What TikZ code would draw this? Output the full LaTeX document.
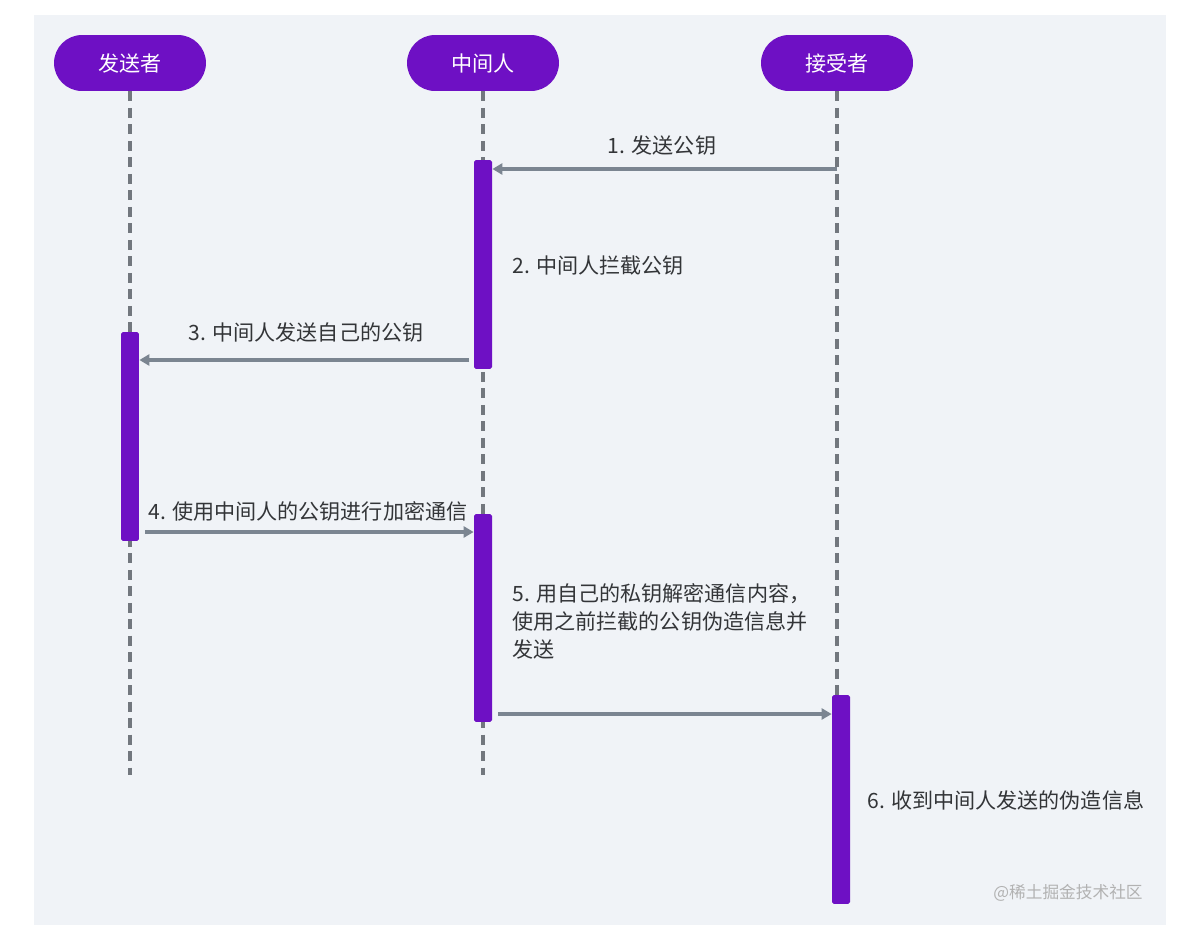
\documentclass[tikz,border=0pt]{standalone}
\usepackage{fontspec}
\setmainfont{Noto Sans CJK SC}
\usetikzlibrary{arrows.meta}

\definecolor{panelbg}{HTML}{F0F3F7}
\definecolor{actorpurple}{HTML}{6E10C4}
\definecolor{msggray}{HTML}{7B8591}
\definecolor{lifegray}{HTML}{72777E}
\definecolor{textgray}{HTML}{333538}

\begin{document}
\begin{tikzpicture}[
    x=0.02cm, y=-0.02cm,
    actor/.style={
        rectangle,
        rounded corners=0.56cm,
        fill=actorpurple,
        text=white,
        minimum width=3.04cm,
        minimum height=1.12cm,
        inner sep=0pt,
        font=\fontsize{12}{14}\selectfont,
    },
    bar/.style={
        rectangle,
        rounded corners=1pt,
        fill=actorpurple,
        minimum width=0.36cm,
        inner sep=0pt,
    },
    life/.style={
        draw=lifegray,
        line width=2pt,
        dash pattern=on 0.2cm off 0.13cm,
    },
    msg/.style={
        draw=msggray,
        line width=2pt,
        -{Triangle[length=2mm,width=2.2mm]},
    },
    label/.style={
        text=textgray,
        inner sep=0pt,
        font=\fontsize{12}{16}\selectfont,
    }
]

    \useasboundingbox (0,0) rectangle (1194,940);
    \fill[panelbg] (34,15) rectangle (1166,925);

    \node[actor] (sender) at (130, 63) {发送者};
    \node[actor] (mitm) at (483, 63) {中间人};
    \node[actor] (receiver) at (837, 63) {接受者};

    \coordinate (sender end) at (130, 775);
    \coordinate (mitm end) at (483, 775);
    \coordinate (receiver end) at (837, 775);

    \draw[life] (sender) -- (sender end);
    \draw[life] (mitm) -- (mitm end);
    \draw[life] (receiver) -- (receiver end);

    \node[bar, minimum height=4.18cm] (m1) at (483, 264.5) {};
    \node[bar, minimum height=4.18cm] (s1) at (130, 436.5) {};
    \node[bar, minimum height=4.16cm] (m2) at (483, 618) {};
    \node[bar, minimum height=4.18cm] (r1) at (841, 799.5) {};

    \coordinate (k1) at (837, 169);
    \coordinate (k3) at (469, 360);
    \coordinate (k4) at (145, 532);
    \coordinate (k5) at (498, 714);

    \draw[msg] (k1) -- (k1 -| m1.east);
    \draw[msg] (k3) -- (k3 -| s1.east);
    \draw[msg] (k4) -- (k4 -| m2.west);
    \draw[msg] (k5) -- (k5 -| r1.west);

    \node[label] (l1) at (662, 145) {1. 发送公钥};
    \node[label, anchor=west] (l2) at (512, 266) {2. 中间人拦截公钥};
    \node[label] (l3) at (306, 332) {3. 中间人发送自己的公钥};
    \node[label, anchor=west] (l4) at (148, 511) {4. 使用中间人的公钥进行加密通信};
    \node[label, anchor=north west, align=left,
          font=\fontsize{12}{15.9}\selectfont] (l5) at (512, 583)
        {5. 用自己的私钥解密通信内容，\\使用之前拦截的公钥伪造信息并\\发送};
    \node[label, anchor=west] (l6) at (867, 800) {6. 收到中间人发送的伪造信息};

    \node[text=gray!60, inner sep=0pt, anchor=east,
          font=\fontsize{9.5}{11}\selectfont] (mark) at (1143, 893) {@稀土掘金技术社区};

\end{tikzpicture}
\end{document}
